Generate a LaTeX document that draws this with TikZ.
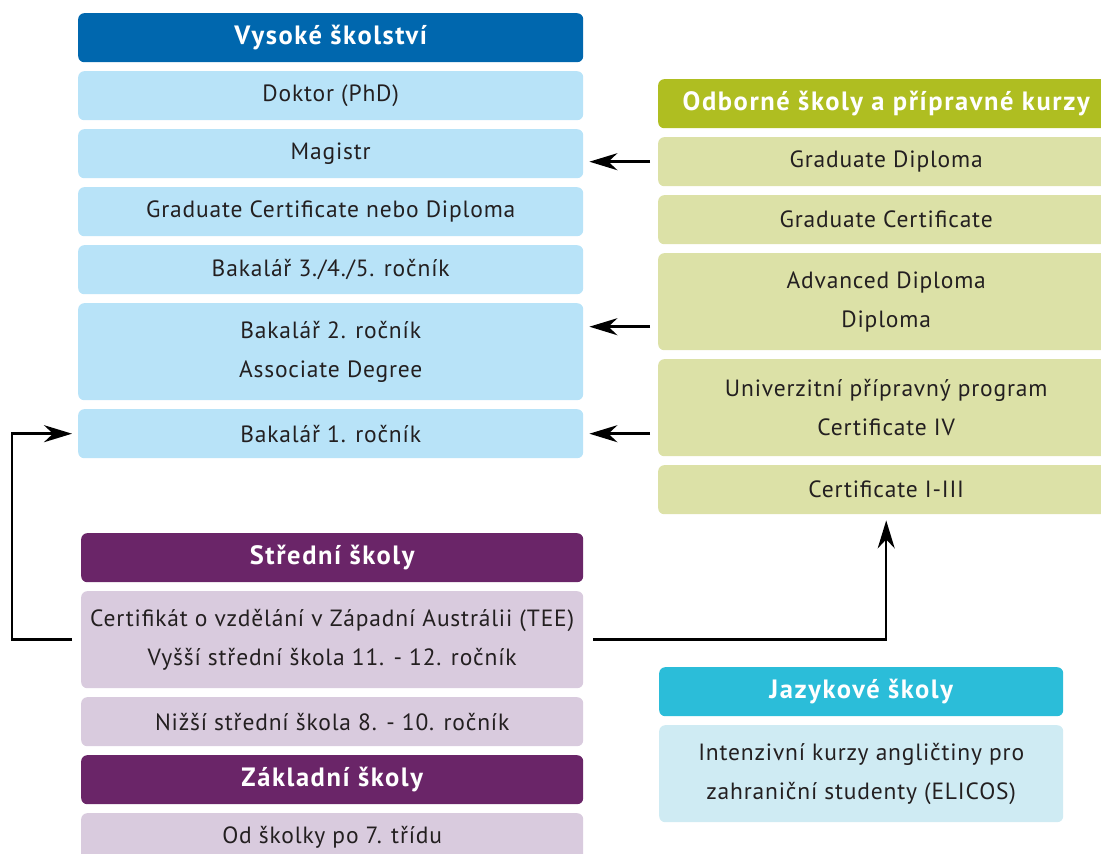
\documentclass[tikz,border=0pt]{standalone}
\usepackage{fontspec}
\setmainfont{PT Sans}[LetterSpace=3.5]
\newfontfamily\headfont{PT Sans}[LetterSpace=6]
\usepackage{xcolor}
\usetikzlibrary{arrows.meta}
\usetikzlibrary{positioning}
\definecolor{uniDark}{RGB}{0,103,174}
\definecolor{uniLight}{RGB}{184,227,248}
\definecolor{vocDark}{RGB}{175,190,33}
\definecolor{vocLight}{RGB}{220,225,167}
\definecolor{secDark}{RGB}{106,37,104}
\definecolor{secLight}{RGB}{217,203,222}
\definecolor{langDark}{RGB}{43,189,217}
\definecolor{langLight}{RGB}{207,235,243}
\definecolor{txtGrey}{RGB}{35,31,32}
\tikzstyle{box}=[rectangle, rounded corners=6pt, inner sep=0pt, align=center, minimum height=49pt, text=txtGrey, font=\fontsize{23.5}{39}\selectfont]
\tikzstyle{head}=[box, anchor=north west, text=white, font=\headfont\bfseries\fontsize{26.5}{28}\selectfont]
\tikzstyle{twoline}=[minimum height=97pt]

\begin{document}
\begin{tikzpicture}[x=1pt, y=-1pt]
\tikzset{>={Stealth[length=28pt, width=17pt, inset=9pt]}}
\tikzset{arr/.style={->, line width=2.5pt, black}}
\tikzset{node distance=8.6pt}
\tikzset{uni/.style={box, fill=uniLight, minimum width=505pt}}
\tikzset{voc/.style={box, fill=vocLight, minimum width=456pt}}
\tikzset{sec/.style={box, fill=secLight, minimum width=502pt}}
\tikzset{lang/.style={box, fill=langLight, minimum width=404pt}}

\useasboundingbox (0,0) rectangle (1101,854);

% Vysoke skolstvi
\node[head, fill=uniDark, minimum width=505pt] (uniH) at (78,13) {Vysoké školství};
\node[uni, below=of uniH] (phd) {Doktor (PhD)};
\node[uni, below=of phd] (mag) {Magistr};
\node[uni, below=of mag] (gcd) {Graduate Certificate nebo Diploma};
\node[uni, below=of gcd] (bak3) {Bakalář 3./4./5. ročník};
\node[uni, twoline, below=of bak3] (bak2) {Bakalář 2. ročník\\Associate Degree};
\node[uni, below=of bak2] (bak1) {Bakalář 1. ročník};

% Odborne skoly
\node[head, fill=vocDark, minimum width=456pt] (vocH) at (658,79) {Odborné školy a přípravné kurzy};
\node[voc, below=of vocH] (gdip) {Graduate Diploma};
\node[voc, below=of gdip] (gcert) {Graduate Certificate};
\node[voc, twoline, below=of gcert] (adv) {Advanced Diploma\\Diploma};
\node[voc, twoline, below=of adv] (prep) {Univerzitní přípravný program\\Certificate IV};
\node[voc, below=of prep] (cert) {Certificate I-III};

% Stredni a zakladni skoly
\node[head, fill=secDark, minimum width=502pt] (secH) at (81,533) {Střední školy};
\node[sec, twoline, below=of secH] (tee) {Certifikát o vzdělání v Západní Austrálii (TEE)\\Vyšší střední škola 11. - 12. ročník};
\node[sec, below=of tee] (low) {Nižší střední škola 8. - 10. ročník};
\node[head, fill=secDark, minimum width=502pt, below=of low] (primH) {Základní školy};
\node[sec, below=of primH] (kind) {Od školky po 7. třídu};

% Jazykove skoly
\node[head, fill=langDark, minimum width=404pt] (langH) at (659,667) {Jazykové školy};
\node[lang, twoline, below=of langH] (elicos) {Intenzivní kurzy angličtiny pro\\zahraniční studenty (ELICOS)};

% arrows
\draw[arr, shorten <=8pt, shorten >=6pt] (gdip.west) -- (gdip.west -| mag.east);
\draw[arr, shorten <=8pt, shorten >=6pt] ([yshift=-25pt]adv.west) -- ([yshift=-25pt]adv.west -| bak2.east);
\draw[arr, shorten <=8pt, shorten >=6pt] (prep.west |- bak1.east) -- (bak1.east);
\draw[arr, shorten <=9pt, shorten >=6pt] (tee.west) -- ++(-69,0) |- (bak1.west);
\draw[arr, shorten <=10pt, shorten >=6pt] (tee.east) -| (cert.south);

\end{tikzpicture}
\end{document}
